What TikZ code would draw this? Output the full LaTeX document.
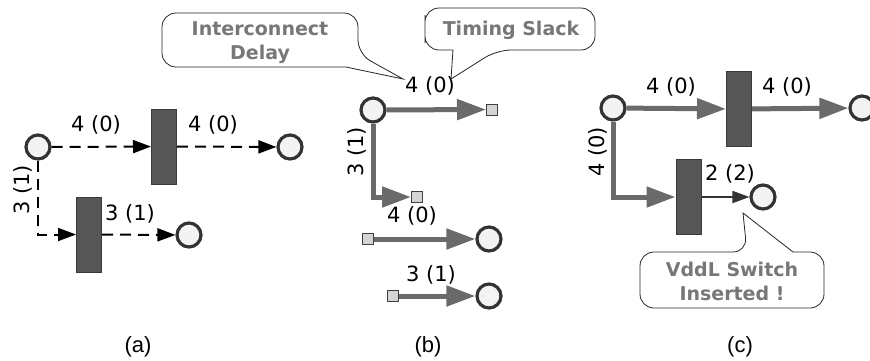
\documentclass[tikz,border=0pt]{standalone}
\usepackage{fontspec}
\setmainfont{DejaVu Sans}
\newfontfamily\capfont{Liberation Sans}
\usetikzlibrary{arrows.meta}
\definecolor{ringc}{HTML}{333333}
\definecolor{pinfill}{HTML}{F3F3F3}
\definecolor{gatefill}{HTML}{565656}
\definecolor{gateedge}{HTML}{3A3A3A}
\definecolor{portfill}{HTML}{D4D4D4}
\definecolor{portedge}{HTML}{404040}
\definecolor{wirec}{HTML}{6A6A6A}
\definecolor{calltext}{HTML}{777777}
\begin{document}
\begin{tikzpicture}[x=1pt,y=-1pt,
  pin/.style={circle,draw=ringc,fill=pinfill,line width=3.2pt,minimum size=24pt,inner sep=0pt},
  gate/.style={rectangle,draw=gateedge,fill=gatefill,line width=1pt,minimum width=25pt,minimum height=75pt,inner sep=0pt},
  port/.style={rectangle,draw=portedge,fill=portfill,line width=1pt,minimum size=11pt,inner sep=0pt},
  lbl/.style={font=\fontsize{21}{22}\selectfont,inner sep=0pt},
  wdash/.style={draw=black,line width=2pt,dash pattern=on 11pt off 7pt,-{Triangle[length=18pt,width=13pt]}},
  wire/.style={draw=wirec,line width=5pt,-{Triangle[length=29pt,width=20pt]}},
  thinwire/.style={draw=ringc,line width=2pt,-{Triangle[length=17pt,width=12pt]}},
  callout/.style={draw=black!85,line width=0.8pt,fill=white},
  ctext/.style={font=\bfseries\fontsize{19}{24}\selectfont,text=calltext,align=center,inner sep=0pt},
  subcap/.style={font=\capfont\fontsize{22}{22}\selectfont,inner sep=0pt}]

\path[use as bounding box] (0,0) rectangle (870,360);

% ---------- (a) original netlist with dashed wires ----------
\node[pin]  (a1) at (38,147) {};
\node[gate] (ga1) at (164,146.5) {};
\node[pin]  (a2) at (290,147) {};
\node[gate] (ga2) at (89,234.5) {};
\node[pin]  (a3) at (189,235) {};
\draw[wdash] (a1) -- (ga1);
\draw[wdash] (ga1) -- (a2);
\draw[wdash] (a1.south) |- (ga2.west);
\draw[wdash] (ga2) -- (a3);
\node[lbl] (la1) at (96,125) {4 (0)};
\node[lbl] (la2) at (213,125) {4 (0)};
\node[lbl,rotate=90] (la3) at (23,190) {3 (1)};
\node[lbl] (la4) at (130,214) {3 (1)};
\node[subcap] (capa) at (138,347) {(a)};

% ---------- (b) wires split at the gates ----------
\node[pin]  (b1) at (373,110) {};
\node[port] (pb1) at (492,109.5) {};
\node[port] (pb2) at (417,197) {};
\node[port] (pb3) at (368,239) {};
\node[pin]  (b2) at (489,239) {};
\node[port] (pb4) at (393,296) {};
\node[pin]  (b3) at (489,296) {};
\draw[wire] (b1) -- (pb1);
\draw[wire] (b1.south) |- (pb2.west);
\draw[wire] (pb3) -- (b2);
\draw[wire] (pb4) -- (b3);
\node[lbl] (lb1) at (430,86) {4 (0)};
\node[lbl,rotate=90] (lb2) at (357,152) {3 (1)};
\node[lbl] (lb3) at (412,216) {4 (0)};
\node[lbl] (lb4) at (431,275) {3 (1)};
\node[subcap] (capb) at (428,347) {(b)};

% callouts on the first wire
\coordinate (tipA) at (403,79);
\coordinate (tipB) at (451,79);
\draw[callout] (162,40) [rounded corners=14pt] -- (162,13) -- (358,13) -- (358,54)
  [sharp corners] -- (tipA) -- (346,67) [rounded corners=14pt] -- (162,67) -- cycle;
\draw[callout] (425,29) [rounded corners=14pt] -- (425,8) -- (595,8) -- (595,50) -- (497,50)
  [sharp corners] -- (tipB) -- (453,50) [rounded corners=14pt] -- (425,50) -- cycle;
\node[ctext] (t1) at (260,43) {Interconnect\\Delay};
\node[ctext] (t2) at (511,30) {Timing Slack};

% ---------- (c) VddL switch inserted ----------
\node[pin]  (c1) at (613,108) {};
\node[gate] (gc1) at (739,109) {};
\node[pin]  (c2) at (862,108) {};
\node[gate] (gc2) at (688.5,197) {};
\node[pin]  (c3) at (763,197) {};
\draw[wire] (c1) -- (gc1);
\draw[wire] (gc1) -- (c2);
\draw[wire] (c1.south) |- (gc2.west);
\draw[thinwire] (gc2) -- (c3);
\node[lbl] (lc1) at (671,87) {4 (0)};
\node[lbl] (lc2) at (787,87) {4 (0)};
\node[lbl,rotate=90] (lc3) at (598,152) {4 (0)};
\node[lbl] (lc4) at (730,174) {2 (2)};
\node[subcap] (capc) at (740,347) {(c)};

\coordinate (tipC) at (743,213);
\draw[callout] (640,280) [rounded corners=14pt] -- (640,252) -- (747,252)
  [sharp corners] -- (tipC) -- (793,252) [rounded corners=14pt] -- (824,252) -- (824,308) -- (640,308) -- cycle;
\node[ctext] (t3) at (732,281) {VddL Switch\\Inserted !};
\end{tikzpicture}
\end{document}
